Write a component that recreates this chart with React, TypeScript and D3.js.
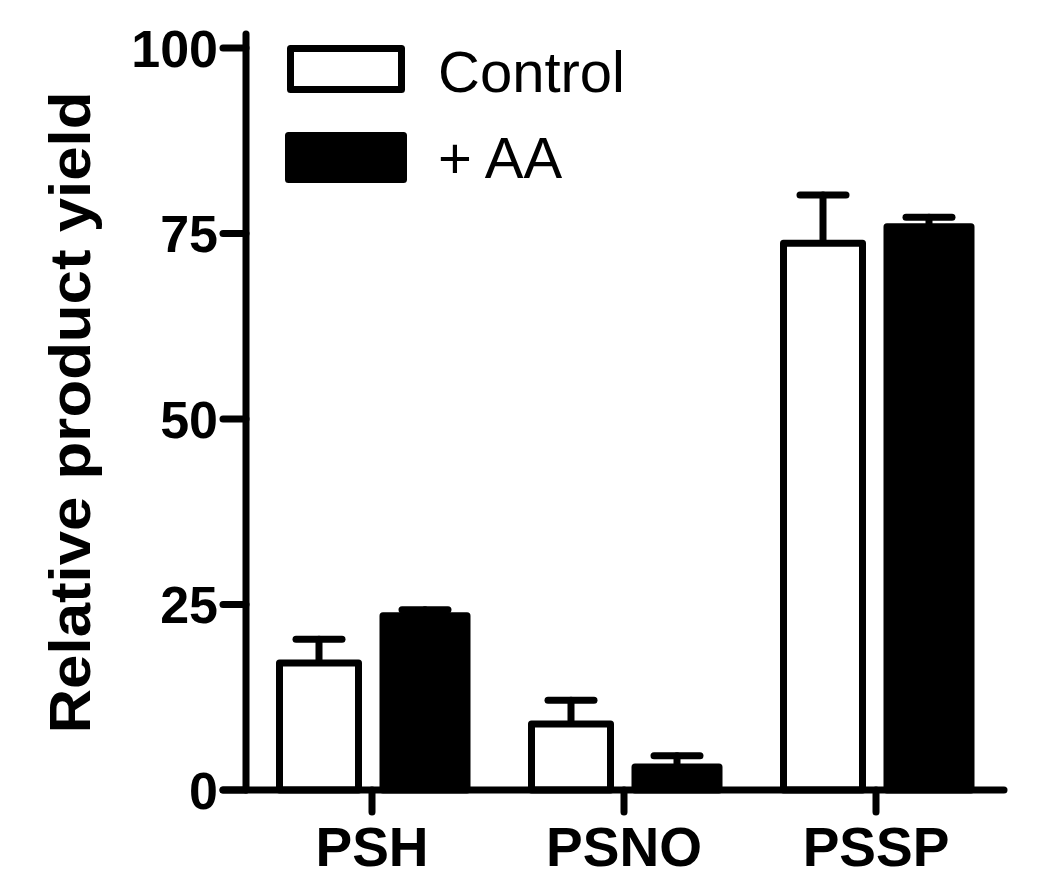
import * as d3 from "d3";

// data
const categories = ["PSH", "PSNO", "PSSP"];
const seriesNames = ["Control", "+ AA"];
const controlMean = [17.1, 8.9, 73.7];
const controlErr = [3.2, 3.2, 6.5];
const aaMean = [23.5, 3.1, 75.9];
const aaErr = [0.8, 1.5, 1.3];
const yTicks = [0, 25, 50, 75, 100];

const W = 1050;
const H = 893;
const SW = 7; // stroke width used everywhere

const App = () => {
  // scales
  const y = d3.scaleLinear().domain([0, 100]).range([790, 48]);
  const x = d3.scaleBand().domain(categories).range([246, 1002]).padding(0);
  const inner = d3
    .scaleBand()
    .domain(seriesNames)
    .range([31, 221])
    .paddingInner(0.2075);

  const series = [
    { name: seriesNames[0], mean: controlMean, err: controlErr, fill: "#fff", shrink: 2.5 },
    { name: seriesNames[1], mean: aaMean, err: aaErr, fill: "#000", shrink: 0 },
  ];

  const capHalf = 23;
  const font = "Arial, 'Liberation Sans', Helvetica, sans-serif";

  return (
    <div style={{ position: "fixed", left: 0, top: 0 }}>
      <svg width={W} height={H} style={{ display: "block", background: "#fff" }}>
        <g fontFamily={font} fill="#000">
          {/* bars + error bars */}
          {series.map((s) =>
            categories.map((c, i) => {
              const x0 = (x(c) ?? 0) + (inner(s.name) ?? 0) + s.shrink;
              const bw = inner.bandwidth() - 2 * s.shrink;
              const cx = x0 + bw / 2;
              const top = y(s.mean[i]);
              const errTop = y(s.mean[i] + s.err[i]);
              return (
                <g key={s.name + c}>
                  <line
                    x1={cx}
                    x2={cx}
                    y1={top}
                    y2={errTop}
                    stroke="#000"
                    strokeWidth={SW}
                    strokeLinecap="round"
                  />
                  <line
                    x1={cx - capHalf}
                    x2={cx + capHalf}
                    y1={errTop}
                    y2={errTop}
                    stroke="#000"
                    strokeWidth={SW}
                    strokeLinecap="round"
                  />
                  <rect
                    x={x0}
                    y={top}
                    width={bw}
                    height={y(0) - top}
                    fill={s.fill}
                    stroke="#000"
                    strokeWidth={SW}
                    strokeLinejoin="round"
                  />
                </g>
              );
            })
          )}

          {/* y axis */}
          <line x1={246} x2={246} y1={y(0)} y2={34} stroke="#000" strokeWidth={SW} strokeLinecap="round" />
          {yTicks.map((t) => (
            <g key={t}>
              <line x1={223} x2={246} y1={y(t)} y2={y(t)} stroke="#000" strokeWidth={SW} strokeLinecap="round" />
              <text
                x={218}
                y={y(t)}
                dy="0.36em"
                textAnchor="end"
                fontSize={52}
                fontWeight="bold"
              >
                {t}
              </text>
            </g>
          ))}

          {/* x axis */}
          <line x1={223} x2={1004} y1={y(0)} y2={y(0)} stroke="#000" strokeWidth={SW} strokeLinecap="round" />
          {categories.map((c) => {
            const cx = (x(c) ?? 0) + x.bandwidth() / 2;
            return (
              <g key={c}>
                <line x1={cx} x2={cx} y1={y(0)} y2={812} stroke="#000" strokeWidth={SW} strokeLinecap="round" />
                <text x={cx} y={866} textAnchor="middle" fontSize={55} fontWeight="bold">
                  {c}
                </text>
              </g>
            );
          })}

          {/* y axis title */}
          <text
            transform={`translate(90, ${(735 + 90) / 2}) rotate(-90)`}
            textAnchor="middle"
            fontSize={58}
            fontWeight="bold"
            textLength={642}
            lengthAdjust="spacingAndGlyphs"
          >
            Relative product yield
          </text>

          {/* legend */}
          <rect x={290.5} y={48.5} width={111} height={41} fill="#fff" stroke="#000" strokeWidth={SW} strokeLinejoin="round" />
          <text x={438} y={92} fontSize={58}>
            {seriesNames[0]}
          </text>
          <rect x={288.5} y={135.5} width={115} height={44} fill="#000" stroke="#000" strokeWidth={SW} strokeLinejoin="round" />
          <text x={438} y={178} fontSize={58}>
            {seriesNames[1]}
          </text>
        </g>
      </svg>
    </div>
  );
};

export default App;
